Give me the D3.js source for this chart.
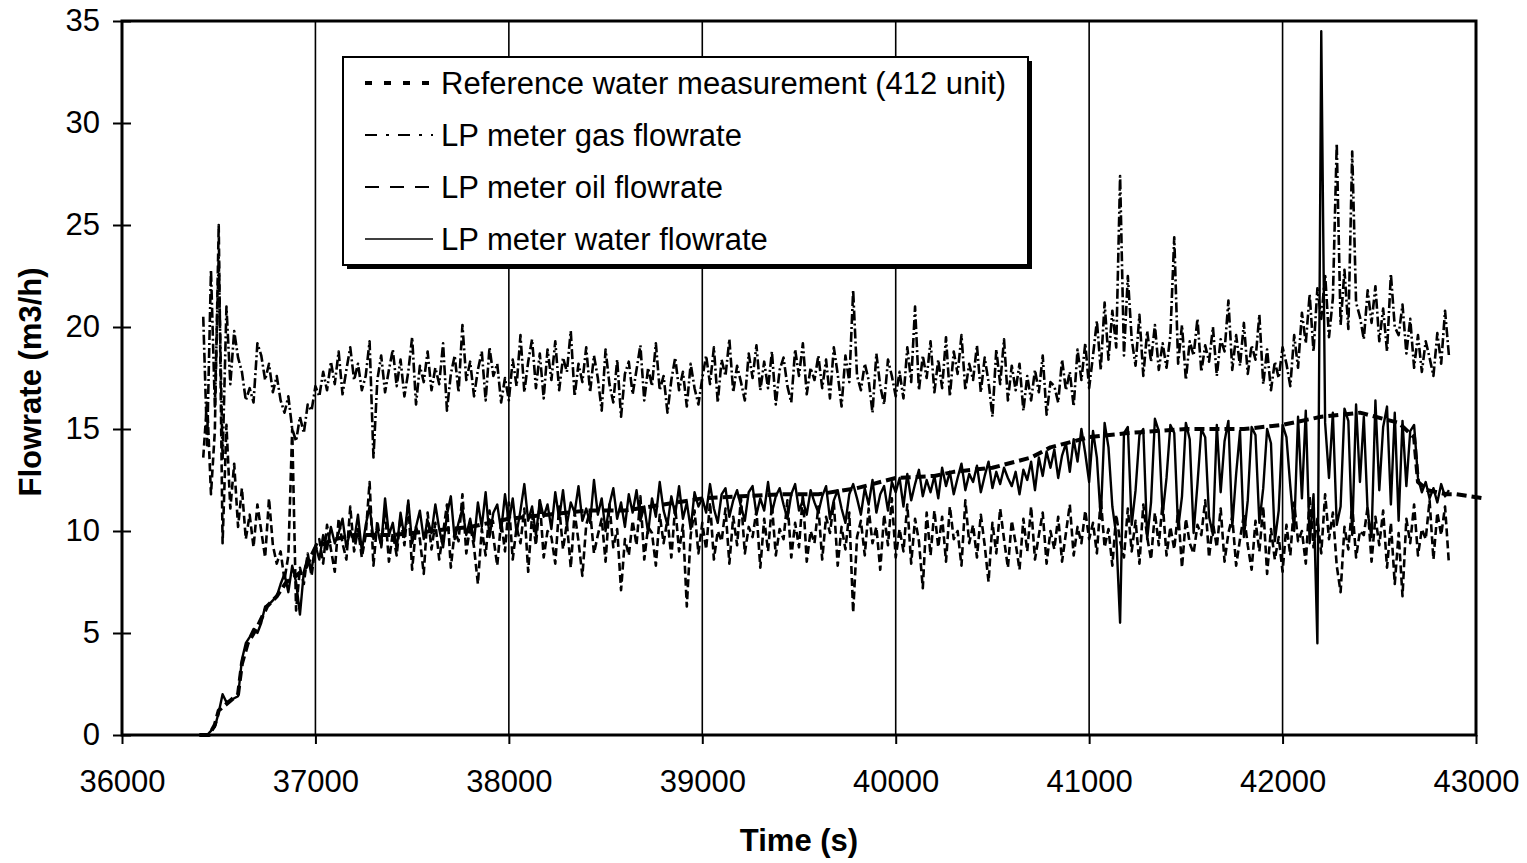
<!DOCTYPE html>
<html>
<head>
<meta charset="utf-8">
<script src="https://cdn.jsdelivr.net/npm/d3@7"></script>
<style>
  body { margin: 0; background: #fff; }
  svg { display: block; font-family: "Liberation Sans", Arial, Helvetica, sans-serif; }
</style>
</head>
<body>
<svg id="chart" width="1527" height="863"></svg>
<script>
// sampling of the LP meter logs (s)
const gasStart = 36420;
const oilStart = 36420;
const waterStart = 36400;
const sampleStep = 20;

// LP meter gas flowrate (m3/h)
const gasFlow = [
  20.5, 14.2, 22.8, 16.1, 23.4, 13.5, 21.0, 17.2, 19.8, 18.5,
  17.8, 16.4, 17.0, 16.3, 19.2, 18.6, 17.4, 18.2, 16.8, 17.6,
  16.4, 15.8, 16.6, 15.0, 14.4, 15.6, 14.8, 16.2, 15.9, 17.1,
  16.6, 17.8, 16.9, 18.3, 17.2, 18.8, 16.7, 17.9, 19.0, 17.4,
  18.2, 16.9, 17.6, 19.3, 13.6, 17.4, 18.6, 16.8, 17.9, 18.9,
  17.1, 18.4, 16.6, 17.8, 19.5, 16.2, 18.1, 17.3, 18.8, 16.9,
  18.0, 17.2, 19.2, 15.9, 17.7, 18.6, 16.8, 20.1, 17.4, 18.3,
  16.6, 17.9, 18.8, 16.4, 19.0, 17.6, 18.2, 16.3, 17.5, 16.4,
  18.4, 17.1, 19.6, 16.8, 18.3, 19.4, 17.0, 18.7, 16.5, 18.9,
  17.4, 19.3, 16.9, 18.5, 17.8, 19.8, 16.6, 18.2, 17.3, 19.0,
  16.8, 18.6, 17.5, 15.9, 18.9, 17.2, 16.3, 18.4, 15.6, 17.7,
  18.3, 16.7, 17.9, 19.1, 16.4, 18.0, 17.1, 19.2, 16.9, 17.6,
  15.8, 17.4, 18.5, 16.9, 17.8, 16.1, 18.2, 17.0, 16.2, 17.5,
  18.6, 17.2, 19.0, 16.3, 18.4, 17.6, 19.4, 16.8, 18.1, 17.3,
  16.4, 18.7, 17.5, 19.1, 16.9, 18.3, 17.0, 18.8, 16.2, 17.9,
  18.5, 17.1, 16.3, 18.9, 17.6, 19.2, 16.7, 18.0, 17.4, 18.6,
  17.0, 18.4, 16.5, 19.0, 17.7, 16.1, 18.6, 17.3, 21.8, 17.6,
  16.9, 18.2, 17.4, 15.8, 18.7, 17.1, 16.2, 18.4, 17.6, 16.6,
  17.8, 16.5, 19.0, 17.3, 21.0, 16.9, 18.6, 17.5, 19.3, 16.8,
  18.4, 17.0, 19.5, 16.6, 18.8, 17.7, 19.6, 16.9, 18.2, 17.4,
  19.1, 16.8, 18.5, 17.3, 15.6, 18.9, 17.2, 19.4, 16.4, 18.1,
  16.9, 18.2, 15.9, 17.6, 16.4, 17.9, 16.8, 18.6, 15.7, 17.3,
  17.1, 16.3, 18.4, 16.9, 17.8, 16.1, 18.9, 17.4, 19.2, 17.0,
  18.6, 20.3, 17.9, 21.2, 18.4, 20.8, 19.0, 27.4, 18.6, 22.5,
  19.4, 18.1, 20.6, 17.6, 19.8, 18.3, 20.1, 17.9, 19.2, 18.0,
  19.6, 24.4, 18.2, 20.1, 17.4, 19.3, 18.6, 20.4, 17.8, 19.1,
  18.3, 20.0, 17.6, 19.4, 18.8, 21.3, 17.9, 19.6, 18.1, 20.2,
  17.7, 19.1, 18.4, 20.6, 17.2, 18.9, 16.9, 18.3, 17.5, 19.0,
  18.2, 17.1, 19.6, 18.0, 20.7, 19.2, 21.6, 18.8, 21.9, 20.4,
  22.6, 19.5, 21.4, 29.0, 20.1, 22.8, 19.9, 28.6, 21.2, 20.5,
  19.4, 21.8, 20.2, 22.0, 19.3, 20.9, 18.8, 22.6, 20.0, 19.6,
  21.1, 18.7, 20.4, 18.0, 19.6, 17.8, 19.3, 18.5, 17.6, 19.7,
  18.2, 20.8, 18.6
];

// LP meter oil flowrate (m3/h)
const oilFlow = [
  13.6, 16.4, 11.8, 14.9, 25.0, 9.4, 15.2, 11.1, 13.3, 10.2,
  12.1, 9.6, 10.8, 9.2, 11.3, 10.0, 8.7, 11.6, 9.3, 8.4,
  9.0, 7.6, 8.8, 15.0, 6.1, 8.2, 7.4, 8.9, 7.8, 9.2,
  9.6, 8.4, 10.3, 9.1, 8.0, 10.6, 9.4, 8.6, 11.2, 9.0,
  10.1, 8.7, 9.8, 12.4, 8.3, 10.5, 9.2, 11.0, 8.5, 9.9,
  8.8, 10.7, 9.3, 11.4, 8.1, 10.2, 9.6, 7.9, 10.9, 9.1,
  10.4, 8.6, 9.9, 11.3, 8.2, 10.0, 9.5, 11.8, 8.9, 10.3,
  9.2, 7.4, 10.1, 8.8, 11.0, 9.7, 8.3, 10.5, 9.0, 11.4,
  8.6, 10.2, 9.4, 11.1, 8.0, 10.8, 9.3, 11.5, 8.7, 10.0,
  9.7, 8.4, 11.2, 9.1, 10.4, 8.2, 10.9, 9.5, 7.8, 10.3,
  11.0, 8.9, 9.8, 10.6, 8.5, 11.3, 9.2, 10.1, 7.1, 9.6,
  8.8, 10.5, 9.3, 11.7, 8.6, 10.2, 9.9, 8.3, 10.8, 9.4,
  10.6, 8.7, 11.2, 9.0, 10.3, 6.3, 9.8, 11.0, 8.9, 10.4,
  9.1, 11.4, 8.6, 10.0, 9.5, 11.1, 8.4, 10.7, 9.3, 11.6,
  8.9, 10.2, 9.7, 11.0, 8.2, 10.6, 9.0, 11.3, 8.8, 10.1,
  9.6, 11.5, 8.7, 10.4, 9.2, 11.8, 8.5, 10.0, 9.4, 11.2,
  8.6, 10.7, 9.9, 11.4, 8.3, 10.2, 9.1, 10.9, 6.0, 9.7,
  10.5, 8.8, 11.1, 9.4, 10.2, 8.1, 10.8, 9.3, 11.6, 8.7,
  10.1, 9.0, 11.3, 8.4, 10.6, 9.5, 7.2, 10.9, 8.8, 11.0,
  9.2, 10.7, 8.5, 11.2, 9.6, 10.0, 8.3, 11.5, 9.4, 10.3,
  8.7, 10.8, 9.3, 7.5, 10.4, 8.9, 11.1, 9.6, 8.2, 10.5,
  9.4, 8.1, 10.6, 9.0, 11.2, 8.6, 9.8, 10.9, 8.4, 10.0,
  9.1, 10.7, 8.5, 9.9, 11.3, 8.8, 10.2, 9.4, 11.0, 9.6,
  10.4, 8.9, 11.6, 9.2, 10.1, 8.3, 10.8, 9.5, 8.7, 11.1,
  9.0, 10.5, 8.4, 11.3, 9.7, 8.6, 10.9, 9.3, 11.4, 8.8,
  10.2, 9.1, 11.0, 8.2, 10.6, 9.4, 8.9, 10.3, 9.8, 11.5,
  8.7, 10.4, 9.2, 11.1, 8.5, 9.9, 10.7, 8.3, 9.6, 10.8,
  9.3, 8.1, 10.5, 9.0, 11.2, 7.9, 10.1, 8.6, 9.7, 8.0,
  10.3, 8.8, 11.4, 9.5, 10.0, 8.4, 11.7, 9.2, 10.6, 8.9,
  11.8, 9.6, 10.9, 8.3, 7.0, 10.2, 9.1, 11.3, 8.7, 10.0,
  9.8, 11.2, 8.5, 10.7, 9.3, 11.0, 8.2, 10.4, 7.4, 9.9,
  6.8, 10.6, 9.4, 11.3, 8.8, 10.1, 9.6, 11.5, 8.6, 10.9,
  9.8, 11.2, 8.4
];

// LP meter water flowrate (m3/h)
const waterFlow = [
  0, 0, 0, 0.2, 0.4, 1.1, 2.0, 1.6, 1.7, 1.8,
  1.9, 3.7, 4.5, 4.8, 5.2, 5.0, 5.5, 6.3, 6.4, 6.6,
  6.8, 7.4, 7.9, 7.0, 8.3, 7.5, 5.9, 8.0, 8.7, 8.1,
  9.3, 8.6, 9.8, 9.1, 10.2, 9.4, 9.9, 10.6, 9.2, 10.0,
  9.5, 10.8, 9.0, 10.3, 11.2, 9.6, 10.1, 9.3, 11.6, 9.8,
  10.4, 9.1, 10.9, 9.7, 11.5, 9.4, 10.2, 11.0, 9.6, 10.5,
  9.9, 11.3, 10.1, 9.2, 10.8, 11.7, 9.6, 10.4, 11.1, 9.8,
  10.6, 9.5, 11.4, 10.2, 11.9, 9.7, 10.9, 11.3, 10.0, 11.8,
  10.4, 11.6, 9.9, 11.0, 12.3, 10.5, 11.2, 9.8, 11.5, 10.7,
  11.3, 10.1, 11.9, 10.6, 12.0, 10.3, 11.4, 10.9, 12.2, 10.5,
  11.1, 10.4, 12.5, 10.8, 11.6, 10.0, 11.3, 12.1, 10.6, 11.4,
  10.2, 11.8, 10.9, 12.0, 10.5, 11.2, 9.9, 11.6, 10.7, 12.4,
  11.0, 10.3, 11.7, 10.8, 12.2, 10.6, 11.4, 10.1, 11.9, 11.2,
  11.6, 10.9, 12.3, 11.1, 10.4, 11.8, 12.1, 10.7, 11.5, 12.0,
  11.2, 10.5, 11.9, 12.2, 10.8, 11.6, 11.0, 12.4, 10.9, 11.7,
  12.1, 11.3, 10.6, 11.8, 12.3, 11.0, 11.5, 10.8, 12.0, 11.4,
  10.9, 11.7, 12.2, 10.6, 11.5, 12.0, 11.1, 10.4, 11.8, 12.3,
  11.6, 10.8, 12.1, 11.3, 12.5, 10.9, 11.8, 12.2, 11.0, 12.4,
  11.9, 12.6, 11.2, 12.8, 11.5, 12.3, 13.0, 11.7, 12.5, 11.9,
  12.7, 11.6, 13.1, 12.2, 12.9, 11.8, 12.6, 13.3, 12.0, 12.8,
  12.4, 13.2, 11.9, 12.7, 13.4, 12.1, 12.9, 12.3, 13.1, 12.6,
  12.2, 12.9, 11.8, 13.0, 12.5, 13.4, 12.0, 13.6, 12.7, 13.9,
  13.1, 14.0, 12.6, 13.7, 14.3, 12.9, 14.5, 13.4, 15.0, 13.8,
  12.4, 14.9, 13.6, 10.6, 15.3, 14.1, 11.2, 9.8, 5.5, 14.8,
  15.1, 10.3, 12.0, 14.7, 15.0, 9.6, 11.4, 15.5, 14.9, 10.8,
  12.6, 15.2, 14.8, 10.1, 11.7, 15.3, 14.5, 9.9, 12.3, 15.0,
  14.6, 10.7, 9.8, 15.2, 11.9, 14.4, 15.4, 10.2, 12.8, 14.9,
  9.7, 11.5, 15.1, 14.7, 10.4, 12.1, 15.0, 14.3, 9.5, 11.0,
  15.2, 14.6, 12.2, 10.0, 15.6, 11.6, 15.9, 9.4, 11.8, 4.5,
  34.5, 15.3, 12.6, 15.8, 10.3, 11.2, 16.0, 15.4, 9.8, 16.2,
  12.4, 15.6, 10.9, 9.7, 16.4, 12.0, 15.1, 16.1, 11.3, 15.8,
  10.5, 15.4, 12.2, 14.9, 15.2, 12.6, 11.9, 12.4, 11.6, 12.1,
  11.4, 12.3, 11.7, 12.0
];

// Reference water measurement, 412 unit (m3/h)
const refTime = [36400, 36450, 36480, 36500, 36550, 36600, 36620, 36650, 36700, 36750,
  36800, 36850, 36900, 36950, 37000, 37100, 37200, 37400, 37600, 37800,
  38000, 38200, 38400, 38600, 38800, 39000, 39200, 39400, 39600, 39800,
  40000, 40200, 40300, 40500, 40700, 40800, 41000, 41200, 41500, 41800,
  42000, 42200, 42400, 42600, 42680, 42700, 42750, 42850, 42900, 43040];
const refWater = [0, 0, 0.5, 1.2, 1.6, 2.0, 3.5, 4.5, 5.3, 6.3,
  6.8, 7.5, 7.8, 8.2, 9.2, 9.6, 9.8, 9.8, 10.0, 10.2,
  10.6, 10.8, 11.0, 11.0, 11.3, 11.6, 11.7, 11.8, 11.8, 12.1,
  12.6, 12.7, 12.9, 13.1, 13.6, 14.1, 14.6, 14.8, 15.0, 15.0,
  15.2, 15.6, 15.8, 15.3, 14.6, 12.4, 12.0, 11.8, 11.8, 11.6];

const xTicks = [36000, 37000, 38000, 39000, 40000, 41000, 42000, 43000];
const yTicks = [0, 5, 10, 15, 20, 25, 30, 35];
const seriesNames = [
  'Reference water measurement (412 unit)',
  'LP meter gas flowrate',
  'LP meter oil flowrate',
  'LP meter water flowrate'
];

const svg = d3.select('#chart');
const plotLeft = 122, plotRight = 1476, plotTop = 21, plotBottom = 735;

const x = d3.scaleLinear().domain([36000, 43000]).range([plotLeft, plotRight]);
const y = d3.scaleLinear().domain([0, 35]).range([plotBottom, plotTop]);

// vertical gridlines
svg.append('g')
  .selectAll('line')
  .data(xTicks.slice(1, -1))
  .join('line')
  .attr('x1', d => x(d)).attr('x2', d => x(d))
  .attr('y1', plotTop).attr('y2', plotBottom)
  .attr('stroke', '#000').attr('stroke-width', 1.6);

function toPoints(values, start) {
  return values.map((v, i) => ({ t: start + i * sampleStep, v: v }));
}

const line = d3.line().x(d => x(d.t)).y(d => y(d.v));

// line styles: plot dash / legend dash
const styles = [
  { width: 4, dash: '10,5', key: '7,12', keyWidth: 4 },
  { width: 2.6, dash: '10,3,2,3', key: '12,9,3,9', keyWidth: 2 },
  { width: 2.6, dash: '8,4', key: '14,11', keyWidth: 2 },
  { width: 2.4, dash: null, key: null, keyWidth: 1.6 }
];

const series = [
  refTime.map((t, i) => ({ t: t, v: refWater[i] })),
  toPoints(gasFlow, gasStart),
  toPoints(oilFlow, oilStart),
  toPoints(waterFlow, waterStart)
];

svg.append('g')
  .selectAll('path')
  .data(series)
  .join('path')
  .attr('d', d => line(d))
  .attr('fill', 'none')
  .attr('stroke', '#000')
  .attr('stroke-linejoin', 'round')
  .attr('stroke-width', (d, i) => styles[i].width)
  .attr('stroke-dasharray', (d, i) => styles[i].dash);

// plot frame
svg.append('rect')
  .attr('x', plotLeft).attr('y', plotTop)
  .attr('width', plotRight - plotLeft).attr('height', plotBottom - plotTop)
  .attr('fill', 'none').attr('stroke', '#000').attr('stroke-width', 3);

// axes
const xAxis = svg.append('g')
  .attr('transform', `translate(0,${plotBottom})`)
  .call(d3.axisBottom(x).tickValues(xTicks).tickFormat(d3.format('d')).tickSize(9).tickPadding(26));

const yAxis = svg.append('g')
  .attr('transform', `translate(${plotLeft},0)`)
  .call(d3.axisLeft(y).tickValues(yTicks).tickSize(9).tickPadding(13));

yAxis.selectAll('.tick line').attr('x1', 9);

[xAxis, yAxis].forEach(g => {
  g.select('.domain').remove();
  g.selectAll('.tick line').attr('stroke', '#000').attr('stroke-width', 2);
  g.selectAll('.tick text')
    .attr('fill', '#000')
    .style('font-size', '31px')
    .style('font-family', '"Liberation Sans", Arial, sans-serif');
});

// axis titles
svg.append('text')
  .attr('x', 799).attr('y', 851)
  .attr('text-anchor', 'middle')
  .style('font-size', '31px').style('font-weight', 'bold')
  .text('Time (s)');

svg.append('text')
  .attr('transform', 'translate(41,382) rotate(-90)')
  .attr('text-anchor', 'middle')
  .style('font-size', '31px').style('font-weight', 'bold')
  .text('Flowrate (m3/h)');

// legend
const legend = svg.append('g');
legend.append('rect')
  .attr('x', 347).attr('y', 61).attr('width', 685).attr('height', 208)
  .attr('fill', '#000');
legend.append('rect')
  .attr('x', 343).attr('y', 57).attr('width', 685).attr('height', 208)
  .attr('fill', '#fff').attr('stroke', '#000').attr('stroke-width', 2);

const rows = legend.selectAll('g.row')
  .data(seriesNames)
  .join('g')
  .attr('class', 'row')
  .attr('transform', (d, i) => `translate(0,${83 + i * 52})`);

rows.append('line')
  .attr('x1', 365).attr('x2', 433)
  .attr('stroke', '#000')
  .attr('stroke-width', (d, i) => styles[i].keyWidth)
  .attr('stroke-dasharray', (d, i) => styles[i].key);

rows.append('text')
  .attr('x', 441).attr('y', 11)
  .style('font-size', '31px')
  .text(d => d);
</script>
</body>
</html>
